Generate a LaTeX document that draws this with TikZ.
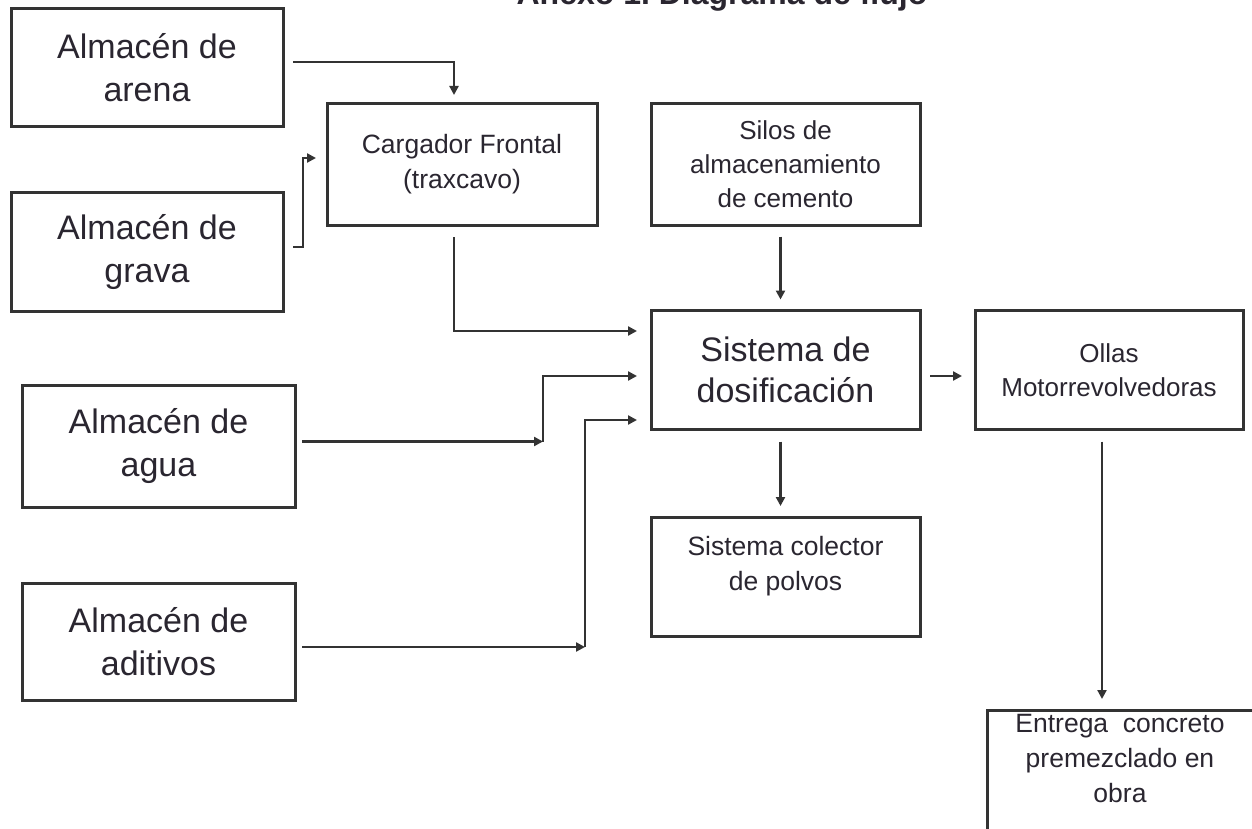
\documentclass[tikz,border=0pt]{standalone}
\usepackage{fontspec}
\setmainfont{Liberation Sans}
\usetikzlibrary{arrows.meta,calc}
\definecolor{ln}{HTML}{333333}
\definecolor{tx}{HTML}{2A2630}
\tikzset{
  boxnode/.style={draw=ln,line width=3pt,rectangle,inner sep=0pt,outer sep=0pt,align=center,text=tx},
  bigtxt/.style={font=\fontsize{34}{43}\selectfont},
  midtxt/.style={font=\fontsize{26.5}{35}\selectfont},
  smalltxt/.style={font=\fontsize{26}{34}\selectfont},
  arr/.style={draw=ln,line width=2.6pt,-{Triangle[length=9pt,width=9pt]}},
  plain/.style={draw=ln,line width=2.6pt}
}
\begin{document}
\begin{tikzpicture}[x=1pt,y=-1pt]
\useasboundingbox (0,0) rectangle (1252,829);
\fill[white] (0,0) rectangle (1252,829);
% title (clipped at top edge, as in the reference)
\node[font=\bfseries\fontsize{32}{38}\selectfont,anchor=base,text=tx,inner sep=0pt] (title) at (722,4.5) {Anexo 1.\ Diagrama de flujo};
% left stores
\node[boxnode,bigtxt,minimum width=272pt,minimum height=118pt] (arena) at (147,68) {Almacén de\\arena};
\node[boxnode,bigtxt,minimum width=272pt,minimum height=119pt] (grava) at (147,252) {Almacén de\\grava};
\node[boxnode,bigtxt,minimum width=273pt,minimum height=122pt] (agua) at (158.5,446) {Almacén de\\agua};
\node[boxnode,bigtxt,minimum width=273pt,minimum height=117pt] (adit) at (158.5,641.5) {Almacén de\\aditivos};
% middle
\node[boxnode,midtxt,minimum width=270pt,minimum height=121pt] (carg) at (462,164.5) {Cargador Frontal\\(traxcavo)};
\node[boxnode,smalltxt,minimum width=269pt,minimum height=122pt] (silos) at (785.5,164.5) {Silos de\\almacenamiento\\de cemento};
\node[boxnode,font=\fontsize{34}{41}\selectfont,minimum width=269pt,minimum height=119pt] (dos) at (785.5,370) {Sistema de\\dosificación};
\node[boxnode,minimum width=269pt,minimum height=119pt] (col) at (785.5,576.5) {};
\node[midtxt,align=center,text=tx,inner sep=0pt] (coltxt) at (785.5,566) {Sistema colector\\de polvos};
\node[boxnode,smalltxt,minimum width=268pt,minimum height=119pt] (ollas) at (1109,370) {Ollas\\Motorrevolvedoras};
% delivery box, cut by the picture's edge
\node[boxnode,anchor=north west,minimum width=275pt,minimum height=140pt] (ent) at (987,710) {};
\node[midtxt,align=center,text=tx,inner sep=0pt] (enttxt) at (1120,759) {Entrega\ \ concreto\\premezclado en\\obra};
% connectors
\draw[arr] ([xshift=10pt,yshift=6pt]arena.east) -| ([xshift=-8pt,yshift=9pt]carg.north);
\draw[arr] ([xshift=10pt,yshift=5pt]grava.east) -- ++(10,0) |- ([xshift=-11pt,yshift=6.5pt]carg.west);
\draw[arr] ([xshift=-8pt,yshift=-12pt]carg.south) |- ([xshift=-14pt,yshift=39pt]dos.west);
\coordinate (aguak) at (543,441.5);
\coordinate (aditk) at (585,647);
\draw[arr] ([xshift=7pt,yshift=4.5pt]agua.east) -- (aguak);
\draw[arr] (aguak) |- ([xshift=-14pt,yshift=-6pt]dos.west);
\draw[arr] ([xshift=7pt,yshift=-5.5pt]adit.east) -- (aditk);
\draw[arr] (aditk) |- ([xshift=-14pt,yshift=-50pt]dos.west);
\draw[arr] ([xshift=-5pt,yshift=-11pt]silos.south) -- ([xshift=-5pt,yshift=11pt]dos.north);
\draw[arr] ([xshift=-5pt,yshift=-12pt]dos.south) -- ([xshift=-5pt,yshift=11pt]col.north);
\draw[arr] ([xshift=10pt,yshift=-6pt]dos.east) -- ([xshift=-13pt,yshift=-6pt]ollas.west);
\draw[arr] ([xshift=-7pt,yshift=-12pt]ollas.south) -- ([xshift=115pt,yshift=11pt]ent.north west);
\end{tikzpicture}
\end{document}
